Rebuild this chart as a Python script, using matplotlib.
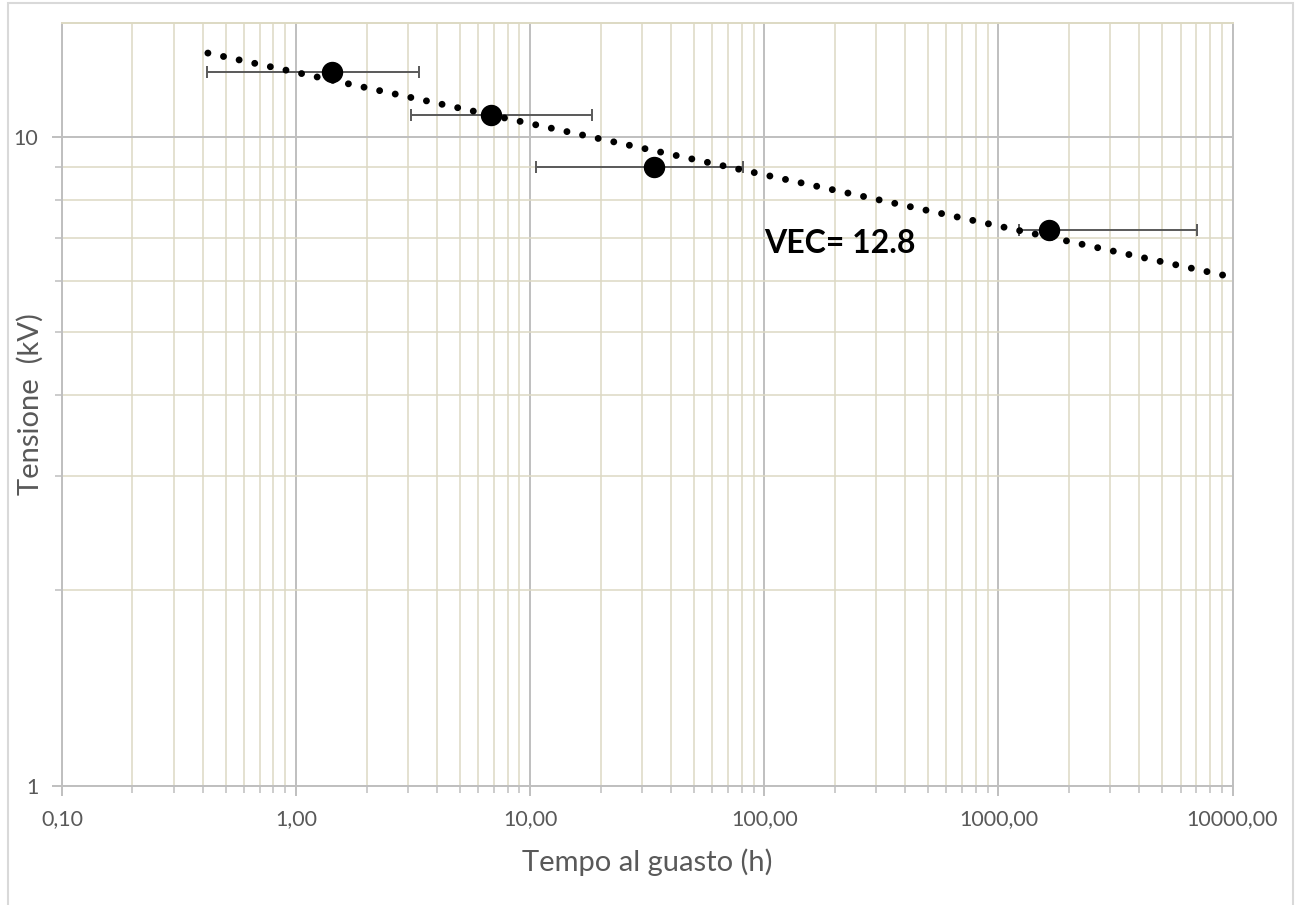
import numpy as np
import matplotlib
matplotlib.use("Agg")
import matplotlib.pyplot as plt
from matplotlib.patches import Rectangle
from matplotlib.ticker import FixedLocator, FuncFormatter, LogLocator, NullFormatter

plt.rcParams["font.family"] = ["Lato", "DejaVu Sans"]

# tempi medi al guasto (h) e tensione di prova (kV)
tempo = [1.42, 6.80, 33.8, 1650]
tensione = [12.62, 10.83, 9.01, 7.19]
# estremi delle barre d'errore sul tempo
tempo_min = [0.416, 3.10, 10.6, 1229]
tempo_max = [3.35, 18.4, 81.3, 7074]
x_ticks = [0.1, 1, 10, 100, 1000, 10000]
y_ticks = [1, 10]

grigio = "#bfbfbf"
beige = "#ddd9c3"
testo = "#595959"

fig = plt.figure(figsize=(12.96, 9.05), dpi=100)
fig.patches.append(Rectangle((8 / 1296, -0.05), (1293 - 8) / 1296, 1.05 - 3 / 905,
                             transform=fig.transFigure, fill=False,
                             edgecolor="#d9d9d9", linewidth=1.5))
ax = fig.add_axes([62 / 1296, (905 - 785.5) / 905, (1232.5 - 62) / 1296, (785.5 - 23) / 905])
ax.set_xscale("log")
ax.set_yscale("log")
ax.set_xlim(0.1, 10000)
ax.set_ylim(1, 15)

# griglia: decadi in grigio, suddivisioni in beige
ax.xaxis.set_major_locator(FixedLocator(x_ticks))
ax.yaxis.set_major_locator(FixedLocator(y_ticks))
ax.xaxis.set_minor_locator(LogLocator(base=10, subs=np.arange(2, 10), numticks=20))
ax.yaxis.set_minor_locator(LogLocator(base=10, subs=np.arange(2, 10), numticks=20))
ax.xaxis.set_minor_formatter(NullFormatter())
ax.yaxis.set_minor_formatter(NullFormatter())
ax.xaxis.set_major_formatter(FuncFormatter(lambda v, p: f"{v:.2f}".replace(".", ",")))
ax.yaxis.set_major_formatter(FuncFormatter(lambda v, p: f"{v:g}"))
ax.grid(True, which="minor", color=beige, linewidth=1.1, zorder=0)
ax.grid(True, which="major", color=grigio, linewidth=1.4, zorder=0.5)
ax.set_axisbelow(True)

ax.tick_params(which="major", length=7, width=1.4, color=grigio, labelcolor=testo,
               labelsize=15.5, pad=10)
ax.tick_params(which="minor", length=5, width=1.1, color=grigio)
ax.spines["left"].set_color(grigio)
ax.spines["bottom"].set_color(grigio)
ax.spines["right"].set_color(grigio)
ax.spines["top"].set_color(beige)
for s in ax.spines.values():
    s.set_linewidth(1.4)

# barre d'errore orizzontali
xerr = [np.array(tempo) - np.array(tempo_min), np.array(tempo_max) - np.array(tempo)]
ax.errorbar(tempo, tensione, xerr=xerr, fmt="none", ecolor=testo, elinewidth=1.4,
            capsize=4, capthick=1.4, zorder=2)

# retta di tendenza (potenza) ricavata dai punti
b, a = np.polyfit(np.log10(tempo), np.log10(tensione), 1)
xt = np.logspace(np.log10(0.42), np.log10(10000), 400)
ax.plot(xt, 10 ** (a + b * np.log10(xt)), color="black", linewidth=5,
        linestyle=(0, (0.001, 2.3)), dash_capstyle="round", zorder=3)

ax.plot(tempo, tensione, "o", color="black", markersize=14.4, zorder=4)

ax.text(100, 6.85, "VEC= 12.8", fontsize=23, fontweight="bold", color="black",
        ha="left", va="center", zorder=5)

ax.set_xlabel("Tempo al guasto (h)", fontsize=21, color=testo, labelpad=14)
ax.set_ylabel("Tensione  (kV)", fontsize=21, color=testo)
ax.yaxis.set_label_coords(-0.0155, 0.5)

fig.savefig("out.png", dpi=100, facecolor="white")
